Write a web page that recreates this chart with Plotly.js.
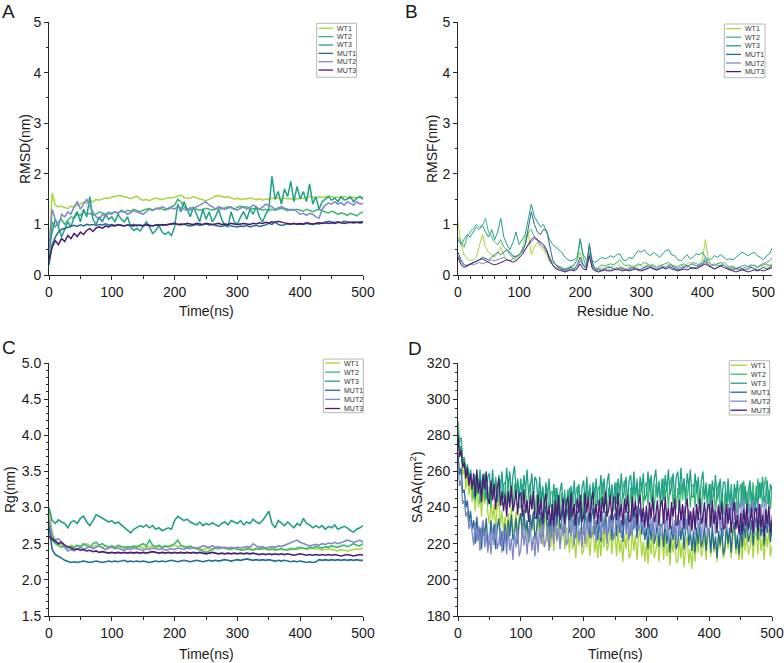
<!DOCTYPE html>
<html>
<head>
<meta charset="utf-8">
<script src="https://cdn.plot.ly/plotly-3.0.1.min.js"></script>
<style>
  html, body { margin: 0; padding: 0; background: #ffffff; }
  #chart { width: 784px; height: 663px; }
</style>
</head>
<body>
<div id="chart"></div>
<script>
// ---- shared axes values ----
const timeNs = [
  0,5,10,15,20,25,30,35,40,45,
  50,55,60,65,70,75,80,85,90,95,
  100,105,110,115,120,125,130,135,140,145,
  150,155,160,165,170,175,180,185,190,195,
  200,205,210,215,220,225,230,235,240,245,
  250,255,260,265,270,275,280,285,290,295,
  300,305,310,315,320,325,330,335,340,345,
  350,355,360,365,370,375,380,385,390,395,
  400,405,410,415,420,425,430,435,440,445,
  450,455,460,465,470,475,480,485,490,495,
  500
];
// SASA frames are sampled more finely (every 2.5 ns)
const timeNsFine = [
  0,2.5,5,7.5,10,12.5,15,17.5,20,22.5,
  25,27.5,30,32.5,35,37.5,40,42.5,45,47.5,
  50,52.5,55,57.5,60,62.5,65,67.5,70,72.5,
  75,77.5,80,82.5,85,87.5,90,92.5,95,97.5,
  100,102.5,105,107.5,110,112.5,115,117.5,120,122.5,
  125,127.5,130,132.5,135,137.5,140,142.5,145,147.5,
  150,152.5,155,157.5,160,162.5,165,167.5,170,172.5,
  175,177.5,180,182.5,185,187.5,190,192.5,195,197.5,
  200,202.5,205,207.5,210,212.5,215,217.5,220,222.5,
  225,227.5,230,232.5,235,237.5,240,242.5,245,247.5,
  250,252.5,255,257.5,260,262.5,265,267.5,270,272.5,
  275,277.5,280,282.5,285,287.5,290,292.5,295,297.5,
  300,302.5,305,307.5,310,312.5,315,317.5,320,322.5,
  325,327.5,330,332.5,335,337.5,340,342.5,345,347.5,
  350,352.5,355,357.5,360,362.5,365,367.5,370,372.5,
  375,377.5,380,382.5,385,387.5,390,392.5,395,397.5,
  400,402.5,405,407.5,410,412.5,415,417.5,420,422.5,
  425,427.5,430,432.5,435,437.5,440,442.5,445,447.5,
  450,452.5,455,457.5,460,462.5,465,467.5,470,472.5,
  475,477.5,480,482.5,485,487.5,490,492.5,495,497.5,
  500
];
const residueNo = [
  0,5,10,15,20,25,30,35,40,45,
  50,55,60,65,70,75,80,85,90,95,
  100,105,110,115,120,125,130,135,140,145,
  150,155,160,165,170,175,180,185,190,195,
  200,205,210,215,220,225,230,235,240,245,
  250,255,260,265,270,275,280,285,290,295,
  300,305,310,315,320,325,330,335,340,345,
  350,355,360,365,370,375,380,385,390,395,
  400,405,410,415,420,425,430,435,440,445,
  450,455,460,465,470,475,480,485,490,495,
  500,505,510,515
];
const seriesNames = ['WT1', 'WT2', 'WT3', 'MUT1', 'MUT2', 'MUT3'];
const seriesColors = ['#a8d63c', '#3dba74', '#20a087', '#246d8e', '#7f88c9', '#4a1c72'];

// ---- A: RMSD (nm) vs time ----
const rmsdWT1 = [
  0.4,1.62,1.38,1.35,1.36,1.33,1.31,1.36,1.34,1.38,
  1.4,1.44,1.42,1.46,1.45,1.49,1.48,1.5,1.52,1.51,
  1.54,1.55,1.57,1.56,1.55,1.53,1.51,1.54,1.56,1.5,
  1.48,1.49,1.47,1.5,1.52,1.5,1.49,1.51,1.53,1.52,
  1.54,1.55,1.58,1.53,1.51,1.52,1.55,1.52,1.5,1.49,
  1.47,1.5,1.52,1.56,1.57,1.55,1.53,1.55,1.52,1.5,
  1.52,1.49,1.51,1.5,1.52,1.5,1.49,1.51,1.48,1.5,
  1.49,1.52,1.5,1.53,1.5,1.52,1.5,1.51,1.49,1.5,
  1.52,1.51,1.53,1.55,1.54,1.52,1.55,1.53,1.54,1.56,
  1.55,1.53,1.54,1.52,1.55,1.53,1.51,1.54,1.52,1.55,
  1.53
];
const rmsdWT2 = [
  0.3,1.05,0.95,1.05,1.1,1.0,1.08,1.15,1.12,1.2,
  1.18,1.25,1.2,1.22,1.18,1.2,1.25,1.22,1.2,1.24,
  1.22,1.25,1.22,1.26,1.24,1.28,1.26,1.3,1.27,1.25,
  1.28,1.3,1.32,1.28,1.3,1.33,1.3,1.28,1.32,1.35,
  1.38,1.5,1.45,1.35,1.3,1.28,1.32,1.3,1.28,1.3,
  1.32,1.3,1.28,1.3,1.33,1.3,1.32,1.35,1.33,1.3,
  1.34,1.36,1.33,1.35,1.32,1.3,1.33,1.31,1.28,1.3,
  1.27,1.3,1.28,1.3,1.32,1.3,1.27,1.3,1.28,1.3,
  1.28,1.26,1.3,1.28,1.25,1.28,1.3,1.27,1.25,1.22,
  1.26,1.24,1.2,1.23,1.21,1.18,1.22,1.2,1.17,1.22,
  1.25
];
const rmsdWT3 = [
  0.5,0.85,1.1,0.95,0.75,0.9,1.05,0.95,1.15,1.25,
  1.05,1.3,1.15,1.55,1.1,1.0,1.15,1.05,1.2,1.1,
  1.15,1.05,1.2,1.1,1.05,1.15,0.95,0.88,0.92,0.87,
  0.95,1.05,0.95,0.82,0.88,0.98,0.85,0.8,0.85,0.78,
  0.95,1.4,1.25,1.45,1.3,1.15,1.35,1.2,1.05,1.3,
  1.1,1.25,1.05,1.15,1.3,1.1,0.98,0.95,1.25,1.05,
  1.0,1.15,1.25,1.1,1.3,1.2,1.35,1.15,1.05,1.2,
  1.3,1.95,1.5,1.65,1.4,1.7,1.55,1.85,1.45,1.75,
  1.5,1.65,1.45,1.8,1.4,1.55,1.3,1.45,1.5,1.55,
  1.48,1.52,1.45,1.55,1.48,1.5,1.55,1.45,1.52,1.55,
  1.5
];
const rmsdMUT1 = [
  0.2,0.6,0.75,0.85,0.9,0.92,0.95,0.97,0.98,0.96,
  0.99,0.97,1.0,0.99,1.0,0.98,1.0,0.99,1.01,0.99,
  1.0,0.98,1.0,0.99,0.97,0.99,0.98,1.0,0.97,0.99,
  0.98,1.0,0.99,0.97,0.99,1.0,0.98,0.99,1.0,1.01,
  1.02,1.0,0.99,1.01,0.98,0.97,0.99,1.0,0.98,1.0,
  1.01,0.99,1.0,0.98,0.97,0.96,0.98,0.99,0.97,0.96,
  0.95,0.97,0.96,0.98,0.95,0.97,0.98,0.96,0.97,0.99,
  1.02,1.0,1.05,1.0,0.98,1.0,1.01,1.0,1.02,1.0,
  1.01,1.0,1.02,1.01,1.0,1.02,1.01,1.03,1.05,1.06,
  1.05,1.04,1.05,1.04,1.06,1.05,1.04,1.05,1.04,1.05,
  1.05
];
const rmsdMUT2 = [
  0.5,1.3,1.1,0.95,1.2,1.15,1.25,1.2,1.35,1.45,
  1.3,1.4,1.5,1.35,1.25,1.15,1.1,1.2,1.15,1.22,
  1.2,1.25,1.22,1.28,1.25,1.2,1.23,1.27,1.25,1.22,
  1.2,1.25,1.3,1.27,1.32,1.3,1.35,1.32,1.3,1.33,
  1.3,1.35,1.32,1.3,1.28,1.33,1.3,1.35,1.38,1.42,
  1.45,1.38,1.35,1.3,1.35,1.33,1.3,1.32,1.35,1.3,
  1.28,1.32,1.35,1.3,1.33,1.38,1.35,1.3,1.34,1.4,
  1.38,1.35,1.3,1.33,1.35,1.32,1.3,1.28,1.3,1.25,
  1.2,1.22,1.18,1.22,1.2,1.15,1.12,1.3,1.38,1.42,
  1.4,1.45,1.4,1.43,1.38,1.45,1.42,1.38,1.45,1.4,
  1.42
];
const rmsdMUT3 = [
  0.3,0.55,0.68,0.6,0.72,0.66,0.78,0.72,0.82,0.76,
  0.85,0.8,0.88,0.92,0.86,0.93,0.95,0.92,0.97,0.95,
  0.98,0.97,0.99,0.98,0.97,0.99,0.98,0.97,0.99,0.98,
  0.97,0.99,0.98,0.97,0.99,0.98,1.0,0.99,1.0,1.01,
  1.02,1.0,1.01,1.0,1.02,1.01,1.0,1.02,1.01,1.0,
  1.02,1.01,1.0,1.01,1.02,1.0,1.01,1.0,1.02,1.01,
  1.0,1.01,1.02,1.01,1.0,1.02,1.01,1.03,1.02,1.04,
  1.03,1.05,1.04,1.06,1.04,1.03,1.02,1.01,1.02,1.01,
  1.02,1.01,1.03,1.02,1.01,1.02,1.03,1.02,1.03,1.02,
  1.03,1.02,1.04,1.03,1.02,1.03,1.04,1.03,1.04,1.03,
  1.04
];

// ---- B: RMSF (nm) vs residue ----
const rmsfWT1 = [
  1.05,0.6,0.4,0.32,0.28,0.3,0.35,0.55,0.8,0.55,
  0.45,0.4,0.35,0.45,0.55,0.4,0.3,0.28,0.32,0.3,
  0.35,0.5,0.75,0.85,0.4,0.55,0.65,0.55,0.5,0.4,
  0.25,0.2,0.15,0.15,0.12,0.1,0.12,0.15,0.2,0.3,
  0.45,0.2,0.12,0.45,0.2,0.1,0.12,0.15,0.12,0.18,
  0.15,0.2,0.25,0.18,0.15,0.12,0.15,0.18,0.15,0.2,
  0.18,0.15,0.2,0.22,0.18,0.15,0.2,0.18,0.15,0.22,
  0.2,0.15,0.18,0.2,0.15,0.22,0.25,0.2,0.18,0.22,
  0.3,0.7,0.3,0.2,0.18,0.22,0.25,0.2,0.15,0.18,
  0.12,0.15,0.1,0.12,0.15,0.18,0.15,0.12,0.15,0.2,
  0.15,0.18,0.2,0.22
];
const rmsfWT2 = [
  0.75,0.65,0.55,0.75,0.85,0.92,1.0,0.95,0.98,1.12,
  0.85,0.75,0.65,0.6,0.7,0.55,0.5,0.4,0.35,0.38,
  0.4,0.5,0.6,0.85,0.9,0.75,0.7,0.6,0.55,0.45,
  0.35,0.25,0.2,0.18,0.15,0.12,0.15,0.18,0.2,0.3,
  0.72,0.35,0.15,0.55,0.2,0.12,0.15,0.2,0.18,0.2,
  0.22,0.2,0.25,0.3,0.22,0.18,0.2,0.15,0.18,0.22,
  0.2,0.25,0.22,0.18,0.2,0.15,0.18,0.2,0.22,0.25,
  0.2,0.18,0.15,0.2,0.22,0.18,0.2,0.25,0.22,0.2,
  0.25,0.35,0.25,0.2,0.22,0.18,0.2,0.25,0.2,0.15,
  0.18,0.12,0.15,0.18,0.2,0.15,0.18,0.2,0.15,0.18,
  0.2,0.22,0.18,0.2
];
const rmsfWT3 = [
  0.7,0.6,0.7,0.8,0.75,0.85,0.95,0.9,0.98,0.85,
  0.75,0.9,0.7,0.85,1.12,0.75,0.6,0.5,0.65,0.85,
  0.6,0.7,0.8,1.1,1.4,1.15,1.05,0.95,1.0,0.85,
  0.7,0.6,0.55,0.5,0.45,0.35,0.3,0.28,0.3,0.35,
  0.7,0.4,0.3,0.35,0.28,0.25,0.3,0.35,0.32,0.34,
  0.38,0.35,0.4,0.42,0.3,0.28,0.35,0.32,0.4,0.48,
  0.45,0.5,0.42,0.38,0.45,0.4,0.35,0.42,0.48,0.5,
  0.4,0.38,0.3,0.28,0.35,0.4,0.32,0.35,0.42,0.4,
  0.45,0.35,0.3,0.32,0.38,0.35,0.4,0.35,0.3,0.32,
  0.3,0.35,0.4,0.45,0.42,0.38,0.42,0.45,0.38,0.35,
  0.3,0.38,0.42,0.55
];
const rmsfMUT1 = [
  0.45,0.3,0.2,0.18,0.22,0.25,0.28,0.3,0.35,0.32,
  0.3,0.35,0.4,0.45,0.4,0.45,0.5,0.45,0.38,0.35,
  0.4,0.45,0.6,0.9,1.25,1.0,0.85,0.8,0.9,0.88,
  0.6,0.3,0.2,0.15,0.12,0.1,0.12,0.15,0.12,0.2,
  0.35,0.2,0.15,0.62,0.25,0.1,0.12,0.1,0.12,0.15,
  0.15,0.12,0.1,0.15,0.12,0.1,0.12,0.15,0.12,0.1,
  0.12,0.15,0.18,0.15,0.12,0.1,0.12,0.15,0.12,0.18,
  0.15,0.12,0.1,0.12,0.15,0.18,0.15,0.12,0.15,0.18,
  0.2,0.3,0.2,0.15,0.12,0.15,0.18,0.2,0.15,0.12,
  0.1,0.12,0.15,0.12,0.1,0.12,0.15,0.12,0.1,0.12,
  0.15,0.12,0.15,0.18
];
const rmsfMUT2 = [
  0.38,0.25,0.18,0.2,0.22,0.2,0.22,0.25,0.22,0.25,
  0.28,0.3,0.28,0.3,0.32,0.35,0.3,0.28,0.32,0.35,
  0.4,0.45,0.5,0.6,0.65,0.72,0.68,0.6,0.55,0.5,
  0.35,0.2,0.15,0.12,0.1,0.08,0.1,0.12,0.1,0.15,
  0.28,0.18,0.12,0.42,0.15,0.1,0.08,0.1,0.12,0.1,
  0.1,0.12,0.15,0.12,0.1,0.12,0.1,0.12,0.15,0.12,
  0.1,0.12,0.15,0.18,0.15,0.12,0.15,0.18,0.15,0.2,
  0.18,0.15,0.12,0.15,0.18,0.15,0.2,0.22,0.18,0.2,
  0.22,0.25,0.2,0.18,0.2,0.22,0.25,0.2,0.15,0.12,
  0.15,0.12,0.1,0.12,0.15,0.18,0.2,0.18,0.15,0.2,
  0.22,0.25,0.28,0.35
];
const rmsfMUT3 = [
  0.35,0.2,0.15,0.18,0.22,0.25,0.28,0.3,0.32,0.28,
  0.25,0.22,0.2,0.22,0.25,0.28,0.3,0.28,0.25,0.28,
  0.35,0.4,0.5,0.6,0.7,0.75,0.7,0.65,0.6,0.5,
  0.3,0.2,0.12,0.1,0.08,0.06,0.08,0.1,0.08,0.12,
  0.22,0.12,0.1,0.38,0.12,0.08,0.06,0.08,0.1,0.08,
  0.08,0.1,0.12,0.1,0.08,0.1,0.08,0.1,0.12,0.1,
  0.08,0.1,0.12,0.15,0.12,0.1,0.12,0.15,0.12,0.15,
  0.12,0.1,0.08,0.1,0.12,0.1,0.12,0.15,0.12,0.15,
  0.18,0.22,0.18,0.15,0.12,0.15,0.18,0.15,0.12,0.1,
  0.08,0.06,0.08,0.1,0.08,0.06,0.08,0.1,0.08,0.1,
  0.08,0.1,0.12,0.15
];

// ---- C: radius of gyration (nm) vs time ----
const rgWT1 = [
  2.95,2.65,2.55,2.5,2.48,2.47,2.45,2.48,2.46,2.47,
  2.45,2.48,2.5,2.47,2.45,2.48,2.46,2.45,2.47,2.45,
  2.46,2.44,2.47,2.45,2.46,2.44,2.46,2.45,2.47,2.45,
  2.44,2.46,2.45,2.47,2.45,2.46,2.44,2.46,2.45,2.47,
  2.48,2.46,2.47,2.45,2.46,2.44,2.45,2.43,2.44,2.42,
  2.43,2.44,2.42,2.44,2.43,2.45,2.44,2.42,2.43,2.44,
  2.42,2.43,2.41,2.42,2.43,2.42,2.44,2.43,2.42,2.43,
  2.41,2.42,2.43,2.42,2.43,2.41,2.42,2.44,2.43,2.42,
  2.43,2.44,2.42,2.43,2.44,2.42,2.43,2.41,2.42,2.43,
  2.42,2.41,2.4,2.42,2.41,2.4,2.41,2.42,2.43,2.42,
  2.44
];
const rgWT2 = [
  2.8,2.55,2.5,2.47,2.45,2.47,2.44,2.46,2.45,2.48,
  2.46,2.5,2.47,2.45,2.5,2.52,2.48,2.5,2.47,2.45,
  2.47,2.45,2.48,2.46,2.44,2.46,2.45,2.47,2.45,2.48,
  2.5,2.47,2.55,2.48,2.46,2.48,2.45,2.47,2.46,2.48,
  2.5,2.55,2.48,2.46,2.45,2.47,2.44,2.43,2.42,2.4,
  2.38,2.4,2.42,2.44,2.43,2.45,2.44,2.43,2.42,2.44,
  2.42,2.41,2.42,2.43,2.42,2.41,2.43,2.42,2.44,2.43,
  2.42,2.43,2.41,2.42,2.43,2.42,2.41,2.43,2.42,2.44,
  2.45,2.44,2.43,2.45,2.44,2.46,2.45,2.44,2.46,2.45,
  2.47,2.46,2.45,2.47,2.48,2.46,2.48,2.5,2.48,2.47,
  2.5
];
const rgWT3 = [
  3.0,2.82,2.78,2.83,2.8,2.78,2.72,2.8,2.82,2.78,
  2.85,2.88,2.8,2.75,2.82,2.9,2.88,2.85,2.82,2.8,
  2.82,2.78,2.8,2.76,2.72,2.68,2.65,2.7,2.72,2.75,
  2.73,2.76,2.72,2.75,2.7,2.72,2.68,2.7,2.72,2.7,
  2.82,2.88,2.85,2.82,2.84,2.8,2.78,2.76,2.8,2.75,
  2.78,2.76,2.79,2.76,2.74,2.78,2.8,2.76,2.82,2.8,
  2.78,2.82,2.76,2.8,2.78,2.84,2.8,2.78,2.82,2.88,
  2.95,2.78,2.72,2.82,2.78,2.75,2.8,2.76,2.72,2.78,
  2.75,2.85,2.78,2.76,2.72,2.75,2.72,2.75,2.7,2.74,
  2.72,2.76,2.7,2.72,2.74,2.72,2.68,2.66,2.7,2.72,
  2.75
];
const rgMUT1 = [
  2.75,2.42,2.35,2.33,2.3,2.27,2.25,2.24,2.25,2.24,
  2.25,2.26,2.25,2.24,2.25,2.26,2.25,2.24,2.25,2.26,
  2.25,2.26,2.25,2.26,2.27,2.25,2.26,2.25,2.26,2.25,
  2.26,2.25,2.24,2.25,2.26,2.25,2.26,2.25,2.26,2.27,
  2.26,2.25,2.26,2.27,2.26,2.25,2.26,2.27,2.26,2.25,
  2.26,2.27,2.26,2.27,2.26,2.27,2.28,2.27,2.26,2.27,
  2.28,2.27,2.28,2.29,2.28,2.27,2.28,2.27,2.28,2.27,
  2.28,2.27,2.26,2.27,2.26,2.27,2.26,2.25,2.26,2.25,
  2.26,2.25,2.24,2.25,2.24,2.25,2.28,2.27,2.28,2.27,
  2.28,2.27,2.28,2.27,2.28,2.27,2.28,2.27,2.28,2.27,
  2.27
];
const rgMUT2 = [
  2.85,2.6,2.55,2.57,2.52,2.45,2.4,2.42,2.4,2.43,
  2.45,2.42,2.44,2.46,2.43,2.45,2.47,2.44,2.42,2.44,
  2.45,2.43,2.44,2.42,2.41,2.43,2.42,2.44,2.43,2.42,
  2.41,2.43,2.42,2.44,2.43,2.42,2.43,2.41,2.42,2.43,
  2.42,2.44,2.43,2.42,2.44,2.43,2.45,2.44,2.45,2.47,
  2.46,2.45,2.47,2.45,2.46,2.44,2.45,2.44,2.45,2.44,
  2.45,2.44,2.45,2.46,2.45,2.5,2.47,2.45,2.46,2.44,
  2.45,2.46,2.45,2.47,2.46,2.48,2.5,2.52,2.53,2.55,
  2.52,2.5,2.48,2.47,2.48,2.49,2.48,2.5,2.49,2.51,
  2.5,2.52,2.5,2.51,2.53,2.55,2.54,2.52,2.53,2.55,
  2.52
];
const rgMUT3 = [
  2.6,2.57,2.53,2.5,2.52,2.48,2.46,2.44,2.42,2.43,
  2.41,2.42,2.4,2.41,2.39,2.4,2.38,2.39,2.38,2.37,
  2.38,2.37,2.38,2.37,2.38,2.37,2.38,2.37,2.38,2.37,
  2.38,2.37,2.38,2.39,2.38,2.37,2.38,2.37,2.38,2.37,
  2.38,2.37,2.38,2.37,2.38,2.37,2.38,2.37,2.38,2.37,
  2.36,2.37,2.38,2.37,2.36,2.37,2.36,2.37,2.36,2.37,
  2.36,2.37,2.36,2.37,2.36,2.37,2.36,2.35,2.36,2.35,
  2.36,2.35,2.36,2.35,2.36,2.35,2.36,2.35,2.34,2.35,
  2.36,2.35,2.34,2.35,2.34,2.35,2.34,2.35,2.34,2.35,
  2.34,2.35,2.34,2.33,2.34,2.35,2.34,2.33,2.34,2.35,
  2.34
];

// ---- D: solvent accessible surface area (nm^2) vs time (2.5 ns frames) ----
const sasaWT1 = [
  284,268,273,258,262,250,258,247,255,243,
  251,238,253,240,247,235,250,242,252,237,
  231,244,233,242,228,240,245,230,238,227,
  235,223,237,228,240,226,230,238,224,236,
  236,223,238,225,232,220,235,227,237,222,
  222,235,224,233,219,231,236,221,229,218,
  228,216,230,221,233,219,223,231,217,229,
  228,215,230,217,224,212,227,219,229,214,
  216,229,218,227,213,225,230,215,223,212,
  225,213,227,218,230,216,220,228,214,226,
  226,213,228,215,222,210,225,217,227,212,
  214,227,216,225,211,223,228,213,221,210,
  221,209,223,214,226,212,216,224,210,222,
  224,211,226,213,220,208,223,215,225,210,
  210,223,212,221,207,219,224,209,217,206,
  222,210,224,215,227,213,217,225,211,223,
  226,213,228,215,222,210,225,217,227,212,
  215,228,217,226,212,224,229,214,222,211,
  223,211,225,216,228,214,218,226,212,224,
  227,214,229,216,223,211,226,218,228,213,
  219
];
const sasaWT2 = [
  288,276,279,266,268,260,264,254,260,250,
  245,258,247,256,242,254,259,244,252,241,
  252,240,254,245,257,243,247,255,241,253,
  254,241,256,243,250,238,253,245,255,240,
  240,253,242,251,237,249,254,239,247,236,
  247,235,249,240,252,238,242,250,236,248,
  249,236,251,238,245,233,248,240,250,235,
  238,251,240,249,235,247,252,237,245,234,
  248,236,250,241,253,239,243,251,237,249,
  252,239,254,241,248,236,251,243,253,238,
  241,254,243,252,238,250,255,240,248,237,
  251,239,253,244,256,242,246,254,240,252,
  254,241,256,243,250,238,253,245,255,240,
  243,256,245,254,240,252,257,242,250,239,
  251,239,253,244,256,242,246,254,240,252,
  253,240,255,242,249,237,252,244,254,239,
  240,253,242,251,237,249,254,239,247,236,
  248,236,250,241,253,239,243,251,237,249,
  253,240,255,242,249,237,252,244,254,239,
  243,256,245,254,240,252,257,242,250,239,
  252
];
const sasaWT3 = [
  281,272,274,264,267,258,263,254,261,251,
  256,244,258,249,261,247,251,259,245,257,
  259,246,261,248,255,243,258,250,260,245,
  249,262,251,260,246,258,263,248,256,245,
  256,244,258,249,261,247,251,259,245,257,
  255,242,257,244,251,239,254,246,256,241,
  240,253,242,251,237,249,254,239,247,236,
  250,238,252,243,255,241,245,253,239,251,
  255,242,257,244,251,239,254,246,256,241,
  245,258,247,256,242,254,259,244,252,241,
  254,242,256,247,259,245,249,257,243,255,
  258,245,260,247,254,242,257,249,259,244,
  247,260,249,258,244,256,261,246,254,243,
  256,244,258,249,261,247,251,259,245,257,
  260,247,262,249,256,244,259,251,261,246,
  246,259,248,257,243,255,260,245,253,242,
  253,241,255,246,258,244,248,256,242,254,
  254,241,256,243,250,238,253,245,255,240,
  241,254,243,252,238,250,255,240,248,237,
  252,240,254,245,257,243,247,255,241,253,
  250
];
const sasaMUT1 = [
  270,258,262,248,250,240,244,232,238,228,
  233,220,235,222,229,217,232,224,234,219,
  220,233,222,231,217,229,234,219,227,216,
  231,219,233,224,236,222,226,234,220,232,
  237,224,239,226,233,221,236,228,238,223,
  227,240,229,238,224,236,241,226,234,223,
  237,225,239,230,242,228,232,240,226,238,
  239,226,241,228,235,223,238,230,240,225,
  226,239,228,237,223,235,240,225,233,222,
  233,221,235,226,238,224,228,236,222,234,
  237,224,239,226,233,221,236,228,238,223,
  226,239,228,237,223,235,240,225,233,222,
  229,217,231,222,234,220,224,232,218,230,
  231,218,233,220,227,215,230,222,232,217,
  220,233,222,231,217,229,234,219,227,216,
  227,215,229,220,232,218,222,230,216,228,
  228,215,230,217,224,212,227,219,229,214,
  218,231,220,229,215,227,232,217,225,214,
  230,218,232,223,235,221,225,233,219,231,
  235,222,237,224,231,219,234,226,236,221,
  229
];
const sasaMUT2 = [
  264,252,255,242,244,235,238,228,233,224,
  219,232,221,230,216,228,233,218,226,215,
  226,214,228,219,231,217,221,229,215,227,
  227,214,229,216,223,211,226,218,228,213,
  217,230,219,228,214,226,231,216,224,213,
  227,215,229,220,232,218,222,230,216,228,
  233,220,235,222,229,217,232,224,234,219,
  222,235,224,233,219,231,236,221,229,218,
  232,220,234,225,237,223,227,235,221,233,
  236,223,238,225,232,220,235,227,237,222,
  226,239,228,237,223,235,240,225,233,222,
  236,224,238,229,241,227,231,239,225,237,
  238,225,240,227,234,222,237,229,239,224,
  226,239,228,237,223,235,240,225,233,222,
  236,224,238,229,241,227,231,239,225,237,
  238,225,240,227,234,222,237,229,239,224,
  228,241,230,239,225,237,242,227,235,224,
  240,228,242,233,245,231,235,243,229,241,
  243,230,245,232,239,227,242,234,244,229,
  231,244,233,242,228,240,245,230,238,227,
  236
];
const sasaMUT3 = [
  280,268,272,262,265,256,262,252,259,250,
  259,246,261,248,255,243,258,250,260,245,
  242,255,244,253,239,251,256,241,249,238,
  247,235,249,240,252,238,242,250,236,248,
  248,235,250,237,244,232,247,239,249,234,
  234,247,236,245,231,243,248,233,241,230,
  242,230,244,235,247,233,237,245,231,243,
  246,233,248,235,242,230,245,237,247,232,
  235,248,237,246,232,244,249,234,242,231,
  244,232,246,237,249,235,239,247,233,245,
  246,233,248,235,242,230,245,237,247,232,
  233,246,235,244,230,242,247,232,240,229,
  241,229,243,234,246,232,236,244,230,242,
  244,231,246,233,240,228,243,235,245,230,
  231,244,233,242,228,240,245,230,238,227,
  240,228,242,233,245,231,235,243,229,241,
  242,229,244,231,238,226,241,233,243,228,
  229,242,231,240,226,238,243,228,236,225,
  237,225,239,230,242,228,232,240,226,238,
  240,227,242,229,236,224,239,231,241,226,
  233
];

// ---- page geometry helpers (pixel -> paper fraction) ----
const W = 784, H = 663;
const px = x => x / W;
const py = y => 1 - y / H;
const INK = '#1a1a1a';
const AXIS = '#262626';

const panels = [
  { letter: 'A', letterPos: [8.5, 11], xa: 'x', ya: 'y', xs: timeNs, lw: 1.5,
    ys: [rmsdWT1, rmsdWT2, rmsdWT3, rmsdMUT1, rmsdMUT2, rmsdMUT3],
    xTitle: 'Time(ns)', xTitlePos: [206, 311], yTitle: 'RMSD(nm)', yTitlePos: [25, 149],
    legend: { box: [316.7, 23.3, 356.5, 77.3], y0: 28.3, dy: 8.35, line: [318.5, 333], text: 335 } },
  { letter: 'B', letterPos: [411.5, 11], xa: 'x2', ya: 'y2', xs: residueNo, lw: 1.0,
    ys: [rmsfWT1, rmsfWT2, rmsfWT3, rmsfMUT1, rmsfMUT2, rmsfMUT3],
    xTitle: 'Residue No.', xTitlePos: [615, 311], yTitle: 'RMSF(nm)', yTitlePos: [432, 149],
    legend: { box: [724.3, 24, 765, 77.7], y0: 28.6, dy: 8.6, line: [726, 741], text: 743 } },
  { letter: 'C', letterPos: [8.5, 347.5], xa: 'x3', ya: 'y3', xs: timeNs, lw: 1.6,
    ys: [rgWT1, rgWT2, rgWT3, rgMUT1, rgMUT2, rgMUT3],
    xTitle: 'Time(ns)', xTitlePos: [206, 654], yTitle: 'Rg(nm)', yTitlePos: [10, 490],
    legend: { box: [323.3, 359, 363.3, 412.7], y0: 363, dy: 9.1, line: [325, 340], text: 342 } },
  { letter: 'D', letterPos: [414.5, 348], xa: 'x4', ya: 'y4', xs: timeNsFine, lw: 1.3,
    ys: [sasaWT1, sasaWT2, sasaWT3, sasaMUT1, sasaMUT2, sasaMUT3],
    xTitle: 'Time(ns)', xTitlePos: [615, 654], yTitle: 'SASA(nm<sup>2</sup>)', yTitlePos: [416, 487],
    legend: { box: [729.3, 360.7, 769.7, 415], y0: 365.2, dy: 9.0, line: [730.5, 747], text: 749 } }
];

const traces = [];
const shapes = [];
const annotations = [];

panels.forEach(p => {
  p.ys.forEach((vals, i) => {
    traces.push({
      type: 'scatter', mode: 'lines', name: seriesNames[i],
      x: p.xs, y: vals, xaxis: p.xa, yaxis: p.ya,
      line: { color: seriesColors[i], width: p.lw },
      hoverinfo: 'skip', showlegend: false
    });
  });

  // panel letter
  annotations.push({ xref: 'paper', yref: 'paper', x: px(p.letterPos[0]), y: py(p.letterPos[1]),
    xanchor: 'center', yanchor: 'middle', showarrow: false, text: p.letter,
    font: { size: 19, color: INK } });

  // axis titles
  annotations.push({ xref: 'paper', yref: 'paper', x: px(p.xTitlePos[0]), y: py(p.xTitlePos[1]),
    xanchor: 'center', yanchor: 'middle', showarrow: false, text: p.xTitle,
    font: { size: 14, color: INK } });
  annotations.push({ xref: 'paper', yref: 'paper', x: px(p.yTitlePos[0]), y: py(p.yTitlePos[1]),
    xanchor: 'center', yanchor: 'middle', showarrow: false, text: p.yTitle, textangle: -90,
    font: { size: 14, color: INK } });

  // small boxed key
  const L = p.legend;
  shapes.push({ type: 'rect', xref: 'paper', yref: 'paper',
    x0: px(L.box[0]), x1: px(L.box[2]), y0: py(L.box[3]), y1: py(L.box[1]),
    line: { color: '#a6a6a6', width: 0.8 }, fillcolor: 'rgba(255,255,255,0)' });
  seriesNames.forEach((nm, i) => {
    const yy = L.y0 + i * L.dy;
    shapes.push({ type: 'line', xref: 'paper', yref: 'paper',
      x0: px(L.line[0]), x1: px(L.line[1]), y0: py(yy), y1: py(yy),
      line: { color: seriesColors[i], width: 1.3 } });
    annotations.push({ xref: 'paper', yref: 'paper', x: px(L.text), y: py(yy),
      xanchor: 'left', yanchor: 'middle', showarrow: false, text: nm,
      font: { size: 7, color: '#333333' } });
  });
});

function axisBase(extra) {
  return Object.assign({
    showline: true, linecolor: AXIS, linewidth: 1,
    ticks: 'outside', ticklen: 4, tickwidth: 1, tickcolor: AXIS,
    showgrid: false, zeroline: false, fixedrange: true,
    tickfont: { size: 14, color: INK }
  }, extra);
}
function minorTicks(step) {
  return { ticks: 'outside', ticklen: 2.5, tickwidth: 1, tickcolor: AXIS, dtick: step, showgrid: false };
}

const topRow = [py(275), py(22)];
const bottomRow = [py(616), py(363)];
const leftCol = [px(49), px(363)];
const rightCol = [px(458), px(772)];

const layout = {
  width: W, height: H,
  margin: { l: 0, r: 0, t: 0, b: 0 },
  paper_bgcolor: '#ffffff', plot_bgcolor: '#ffffff',
  showlegend: false,
  font: { family: 'Liberation Sans, Arial, sans-serif', color: INK },
  xaxis: axisBase({ domain: leftCol, anchor: 'y', range: [0, 500], tick0: 0, dtick: 100, minor: minorTicks(50) }),
  yaxis: axisBase({ domain: topRow, anchor: 'x', range: [0, 5], tick0: 0, dtick: 1, minor: minorTicks(0.5) }),
  xaxis2: axisBase({ domain: rightCol, anchor: 'y2', range: [0, 514], tick0: 0, dtick: 100, minor: minorTicks(20) }),
  yaxis2: axisBase({ domain: topRow, anchor: 'x2', range: [0, 5], tick0: 0, dtick: 1, minor: minorTicks(0.5) }),
  xaxis3: axisBase({ domain: leftCol, anchor: 'y3', range: [0, 500], tick0: 0, dtick: 100, minor: minorTicks(50) }),
  yaxis3: axisBase({ domain: bottomRow, anchor: 'x3', range: [1.5, 5], tick0: 1.5, dtick: 0.5, tickformat: '.1f', minor: minorTicks(0.1) }),
  xaxis4: axisBase({ domain: rightCol, anchor: 'y4', range: [0, 500], tick0: 0, dtick: 100, minor: minorTicks(50) }),
  yaxis4: axisBase({ domain: bottomRow, anchor: 'x4', range: [180, 320], tick0: 180, dtick: 20, minor: minorTicks(5) }),
  shapes: shapes,
  annotations: annotations
};

Plotly.newPlot('chart', traces, layout, { staticPlot: true, displayModeBar: false });
</script>
</body>
</html>
